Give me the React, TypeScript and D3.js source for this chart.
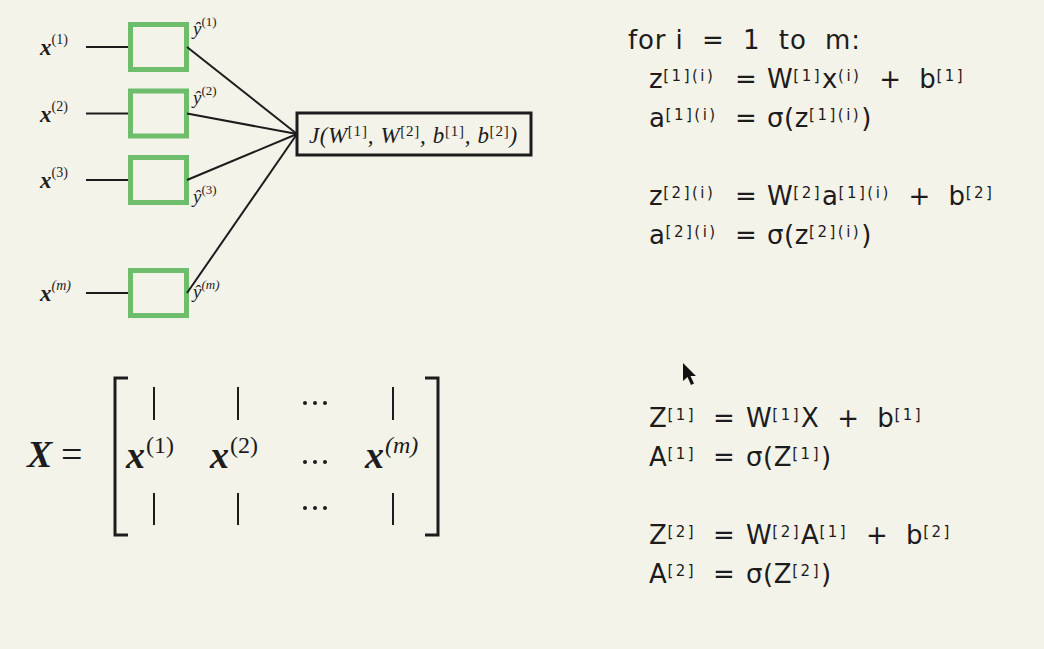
import React from 'react';
import * as d3 from 'd3';

const width = 1044;
const height = 649;
const BG = '#f4f3ea';
const GREEN = '#6dbd6d';
const INK = '#1c1c1c';
const SERIF = '"Liberation Serif", "DejaVu Serif", serif';
const SANS = '"DejaVu Sans", "Noto Sans", sans-serif';

// examples in the network sketch (m sits a bit further down)
const exampleIdx = ['1', '2', '3', 'm'];
const rowSlots = [0, 1, 2, 3.7];
const hatOffsets = [-12, -10, 23, 5];

const costLabel: [string, string][] = [
  ['J(W', '[1]'], [', W', '[2]'], [', b', '[1]'], [', b', '[2]'], [')', ''],
];

type Part = [string, string];
interface EqLine { slot: number; lhs: Part[]; rhs: Part[] }

const loopHeader = 'for i  =  1  to  m:';
const loopLines: EqLine[] = [
  { slot: 0, lhs: [['z', '[1](i)']], rhs: [['W', '[1]'], ['x', '(i)'], ['  +  b', '[1]']] },
  { slot: 1, lhs: [['a', '[1](i)']], rhs: [['σ(z', '[1](i)'], [')', '']] },
  { slot: 3, lhs: [['z', '[2](i)']], rhs: [['W', '[2]'], ['a', '[1](i)'], ['  +  b', '[2]']] },
  { slot: 4, lhs: [['a', '[2](i)']], rhs: [['σ(z', '[2](i)'], [')', '']] },
];
const vecLines: EqLine[] = [
  { slot: 0, lhs: [['Z', '[1]']], rhs: [['W', '[1]'], ['X  +  b', '[1]']] },
  { slot: 1, lhs: [['A', '[1]']], rhs: [['σ(Z', '[1]'], [')', '']] },
  { slot: 3, lhs: [['Z', '[2]']], rhs: [['W', '[2]'], ['A', '[1]'], ['  +  b', '[2]']] },
  { slot: 4, lhs: [['A', '[2]']], rhs: [['σ(Z', '[2]'], [')', '']] },
];

// matrix columns: 'x' = a column vector, 'dots' = ellipsis column
const matrixCols = [
  { kind: 'x', sup: '(1)' },
  { kind: 'x', sup: '(2)' },
  { kind: 'dots', sup: '' },
  { kind: 'x', sup: '(m)' },
];
const dotRows = [403, 462, 508];

function Eq({ x, y, parts, size, supSize, rise, family, fontStyle, fontWeight, supStyle, spacing = 0, supSpacing = 0 }: {
  x: number; y: number; parts: Part[]; size: number; supSize: number; rise: number;
  family: string; fontStyle?: string; fontWeight?: string | number; supStyle?: string;
  spacing?: number; supSpacing?: number;
}) {
  const spans: React.ReactNode[] = [];
  let raised = false;
  parts.forEach(([b, s], i) => {
    if (b) {
      spans.push(<tspan key={i + 'b'} dy={raised ? rise : 0} letterSpacing={spacing}>{b}</tspan>);
      raised = false;
    }
    if (s) {
      spans.push(
        <tspan key={i + 's'} dy={raised ? 0 : -rise} fontSize={supSize} letterSpacing={supSpacing}
          fontStyle={supStyle ?? fontStyle} fontWeight="normal">{s}</tspan>
      );
      raised = true;
    }
  });
  return (
    <text x={x} y={y} fontSize={size} fontFamily={family} fill={INK}
      fontStyle={fontStyle} fontWeight={fontWeight} style={{ whiteSpace: 'pre' }}>
      {spans}
    </text>
  );
}

const sansEq = { size: 26, supSize: 15, rise: 7, family: SANS, spacing: 0.6, supSpacing: 2.5 };

export default function App() {
  const rowY = d3.scaleLinear().domain([0, 1]).range([47, 113.5]);
  const loopY = d3.scaleLinear().domain([0, 1]).range([88, 127]);
  const vecY = d3.scaleLinear().domain([0, 1]).range([427, 466]);
  const colX = d3.scaleOrdinal<number, number>().domain([0, 1, 2, 3]).range([154, 238, 315, 393]);

  const box = { x0: 128, x1: 189, h: 50 };
  const jBox = { x: 297, y: 113, w: 234, h: 42 };
  const jIn = { x: jBox.x, y: jBox.y + jBox.h / 2 };

  return (
    <svg width={width} height={height} style={{ position: 'absolute', left: 0, top: 0 }}>
      <rect width={width} height={height} fill={BG} />

      {/* network sketch */}
      {exampleIdx.map((k, i) => {
        const cy = rowY(rowSlots[i]);
        return (
          <g key={k}>
            <Eq x={40} y={cy + 8} parts={[['x', `(${k})`]]} size={23} supSize={14} rise={11}
              family={SERIF} fontStyle="italic" fontWeight="bold" supStyle={k === 'm' ? 'italic' : 'normal'} />
            <line x1={86} x2={box.x0} y1={cy} y2={cy} stroke={INK} strokeWidth={2} />
            <rect x={box.x0 + 2.5} y={cy - box.h / 2 + 2.5} width={box.x1 - box.x0 - 5} height={box.h - 5}
              fill="none" stroke={GREEN} strokeWidth={5} />
            <line x1={box.x1 - 2} y1={cy} x2={jIn.x} y2={jIn.y} stroke={INK} strokeWidth={2} />
            <Eq x={193} y={cy + hatOffsets[i]} parts={[['ŷ', `(${k})`]]} size={19} supSize={13} rise={9}
              family={SERIF} fontStyle="italic" supStyle={k === 'm' ? 'italic' : 'normal'} />
          </g>
        );
      })}
      <rect x={jBox.x} y={jBox.y} width={jBox.w} height={jBox.h} fill={BG} stroke={INK} strokeWidth={3} />
      <Eq x={jBox.x + 12} y={jBox.y + 30} parts={costLabel} size={23} supSize={15} rise={7}
        family={SERIF} fontStyle="italic" supStyle="normal" spacing={0.6} supSpacing={0.8} />

      {/* loop version */}
      <text x={628} y={49} fontSize={26} fontFamily={SANS} fill={INK} letterSpacing={0.9}
        style={{ whiteSpace: 'pre' }}>{loopHeader}</text>
      {loopLines.map((l, i) => (
        <g key={i}>
          <Eq x={649} y={loopY(l.slot)} parts={l.lhs} {...sansEq} />
          <text x={735} y={loopY(l.slot)} fontSize={26} fontFamily={SANS} fill={INK}>=</text>
          <Eq x={767} y={loopY(l.slot)} parts={l.rhs} {...sansEq} />
        </g>
      ))}

      {/* vectorised version */}
      {vecLines.map((l, i) => (
        <g key={i}>
          <Eq x={649} y={vecY(l.slot)} parts={l.lhs} {...sansEq} />
          <text x={713} y={vecY(l.slot)} fontSize={26} fontFamily={SANS} fill={INK}>=</text>
          <Eq x={746} y={vecY(l.slot)} parts={l.rhs} {...sansEq} />
        </g>
      ))}

      {/* matrix X */}
      <text x={27} y={467} fontSize={38} fontFamily={SERIF} fontStyle="italic" fontWeight="bold" fill={INK}>X</text>
      <text x={61} y={467} fontSize={38} fontFamily={SERIF} fill={INK}>=</text>
      <path d="M128,378 H115 V535 H128" fill="none" stroke={INK} strokeWidth={3} />
      <path d="M425,378 H438 V535 H425" fill="none" stroke={INK} strokeWidth={3} />
      {matrixCols.map((c, i) => {
        const cx = colX(i);
        if (c.kind === 'dots') {
          return (
            <g key={i}>
              {dotRows.map(dy => (
                <g key={dy}>
                  {[-10, 0, 10].map(dx => <circle key={dx} cx={cx + dx} cy={dy} r={2} fill={INK} />)}
                </g>
              ))}
            </g>
          );
        }
        return (
          <g key={i}>
            <line x1={cx} x2={cx} y1={387} y2={420} stroke={INK} strokeWidth={2} />
            <line x1={cx} x2={cx} y1={493} y2={525} stroke={INK} strokeWidth={2} />
            <Eq x={cx - 28} y={468} parts={[['x', c.sup]]} size={38} supSize={24} rise={15}
              family={SERIF} fontStyle="italic" fontWeight="bold" supStyle={c.sup === '(m)' ? 'italic' : 'normal'} spacing={1} />
          </g>
        );
      })}

      {/* mouse pointer in the screenshot */}
      <path d="M683,363 L683,381 L687.5,377 L691,385 L694,383.5 L690.5,376 L696,376 Z" fill="#111" />
    </svg>
  );
}
